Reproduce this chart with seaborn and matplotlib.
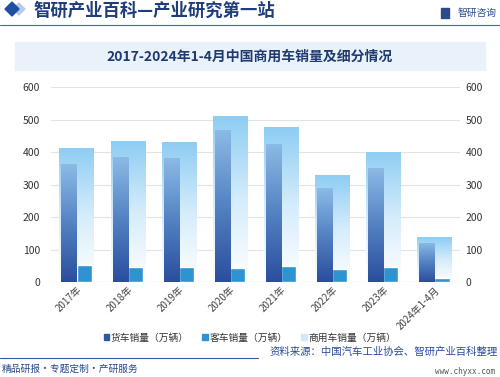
import numpy as np
import pandas as pd
import matplotlib
matplotlib.use("Agg")
import matplotlib.pyplot as plt
import seaborn as sns
from matplotlib.patches import Rectangle, Polygon
from matplotlib.colors import LinearSegmentedColormap

categories = ["2017年", "2018年", "2019年", "2020年", "2021年", "2022年", "2023年", "2024年1-4月"]
truck = [362, 385, 383, 468, 426, 289, 352, 121]
bus = [52, 47, 45, 43, 50, 40, 47, 13]
commercial = [414, 434, 430, 511, 476, 329, 401, 137]
yticks = [0, 100, 200, 300, 400, 500, 600]
series_names = ["货车销量（万辆）", "客车销量（万辆）", "商用车销量（万辆）"]

sns.set_theme(style="white")
plt.rcParams['font.family'] = ['Noto Sans CJK SC', 'DejaVu Sans']

fig = plt.figure(figsize=(5.0, 3.77), dpi=100)
ax = fig.add_axes([0.102, 0.252, 0.818, 0.517])

df_c = pd.DataFrame({"cat": categories, "val": commercial})
sns.barplot(data=df_c, x="cat", y="val", width=0.67, color="#9fd3f5", ax=ax,
            saturation=1, zorder=2)
n_comm = len(ax.patches)

df_long = pd.DataFrame({
    "cat": categories * 2,
    "val": truck + bus,
    "kind": [series_names[0]] * len(categories) + [series_names[1]] * len(categories),
})
sns.barplot(data=df_long, x="cat", y="val", hue="kind", width=0.59, dodge=True,
            palette=["#2f56a5", "#2e93d1"], saturation=1, ax=ax, legend=False, zorder=3)

patches = list(ax.patches)
comm_cmap = LinearSegmentedColormap.from_list("c", ["#ffffff", "#d4ecfb", "#8ecdf3"])
truck_cmap = LinearSegmentedColormap.from_list("t", ["#2a4e9e", "#5482c2", "#8cbbe7"])
grad = np.linspace(0, 1, 256).reshape(-1, 1)
for i, p in enumerate(patches):
    x0, y0 = p.get_x(), p.get_y()
    w, h = p.get_width(), p.get_height()
    if h <= 0:
        continue
    if i < n_comm:
        cm = comm_cmap; z = 2
    elif i < n_comm + len(categories):
        cm = truck_cmap; z = 3
    else:
        continue
    p.set_facecolor("none")
    p.set_edgecolor("none")
    im = ax.imshow(grad, cmap=cm, aspect="auto", origin="lower",
                   extent=[x0, x0 + w, y0, y0 + h], zorder=z)
    im.set_clip_path(p)

ax.set_xlim(-0.5, len(categories) - 0.5)
ax.set_ylim(0, 600)
ax.set_yticks(yticks)
ax.yaxis.grid(True, color="#e3e3e3", linewidth=0.8, zorder=0)
ax.set_axisbelow(True)
for s in ax.spines.values():
    s.set_visible(False)
ax.set_xlabel("")
ax.set_ylabel("")
ax.tick_params(axis="y", labelsize=7.5, colors="#333333", length=0, pad=8)
ax.tick_params(axis="x", length=0, pad=2)
ax.set_xticks(range(len(categories)))
ax.set_xticklabels(categories, rotation=45, ha="right", rotation_mode="anchor",
                   fontsize=7, color="#444444")
for lbl in ax.get_xticklabels():
    lbl.set_x(lbl.get_position()[0])
ax.axhline(0, color="#d0d0d0", linewidth=0.8, zorder=1)

ax2 = ax.twinx()
ax2.set_ylim(0, 600)
ax2.set_yticks(yticks)
for s in ax2.spines.values():
    s.set_visible(False)
ax2.tick_params(axis="y", labelsize=7.5, colors="#333333", length=0, pad=4)
ax2.grid(False)

handles = [Rectangle((0, 0), 1, 1, color="#2f56a5"),
           Rectangle((0, 0), 1, 1, color="#2e93d1"),
           Rectangle((0, 0), 1, 1, color="#cfeafc")]
fig.legend(handles, series_names, loc="center", bbox_to_anchor=(0.5, 0.105), ncol=3,
           frameon=False, fontsize=7, handlelength=0.55, handleheight=0.55,
           handletextpad=0.2, columnspacing=1.4, labelcolor="#333333")

# header
fig.patches.append(Polygon([[5/500, 1-9/377], [12/500, 1-2/377], [19/500, 1-9/377], [12/500, 1-16/377]],
                           closed=True, transform=fig.transFigure, color="#1f4fa0", zorder=5))
fig.patches.append(Polygon([[13/500, 1-9/377], [19/500, 1-3/377], [25/500, 1-9/377], [19/500, 1-15/377]],
                           closed=True, transform=fig.transFigure, color="#b9cbe8", zorder=4))
fig.text(33/500, 1-11/377, "智研产业百科—产业研究第一站", fontsize=12.5, fontweight="bold",
         color="#1f3d7a", va="center", ha="left")
fig.text(497/500, 1-13/377, "智研咨询", fontsize=7, color="#2a4a8a", va="center", ha="right")
fig.patches.append(Rectangle((441/500, 1-18/377), 8/500, 10/377, transform=fig.transFigure,
                             color="#2a4a8a", zorder=4))
fig.add_artist(plt.Line2D([0, 1], [1-25/377, 1-25/377], transform=fig.transFigure,
                          color="#4a65a0", linewidth=0.8))
fig.patches.append(Rectangle((15/500, 1-70/377), 470/500, 28/377, transform=fig.transFigure,
                             color="#e9f1fb", zorder=0))
fig.text(0.5, 1-57/377, "2017-2024年1-4月中国商用车销量及细分情况", fontsize=10, fontweight="bold",
         color="#1f3a6e", va="center", ha="center")

# footer
fig.add_artist(plt.Line2D([0, 258/500], [1-358/377, 1-358/377], transform=fig.transFigure,
                          color="#3a5a9a", linewidth=0.8))
fig.text(2/500, 1-369/377, "精品研报・专题定制・产研服务", fontsize=7, color="#2a4a8a",
         va="center", ha="left")
fig.text(498/500, 1-352/377, "资料来源：中国汽车工业协会、智研产业百科整理", fontsize=7.5,
         color="#2a4a9a", va="center", ha="right")
fig.text(495/500, 1-372/377, "www.chyxx.com", fontsize=5.5, color="#555555",
         va="center", ha="right", family="DejaVu Sans Mono")

fig.savefig("out.png", dpi=100)
